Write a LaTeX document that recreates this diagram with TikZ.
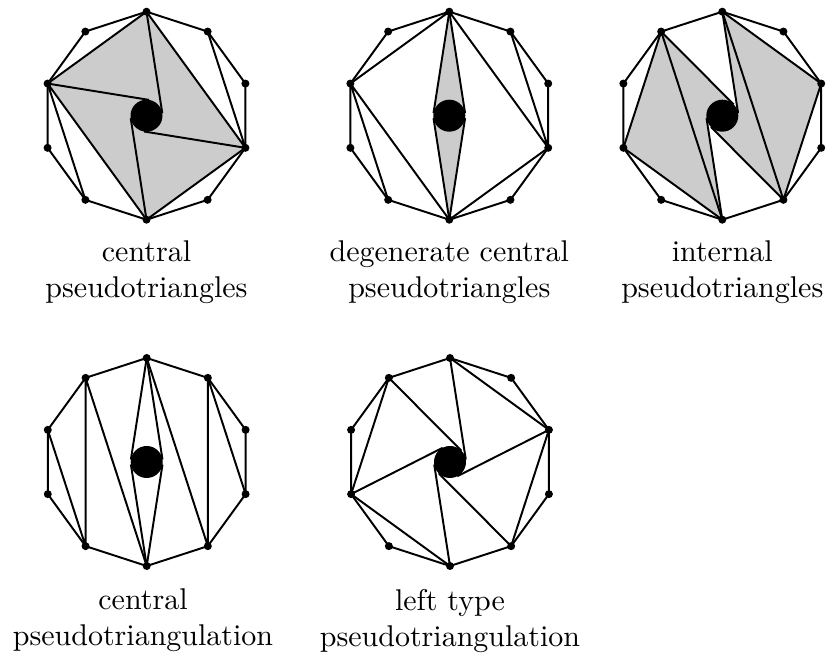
\documentclass[tikz,border=0pt]{standalone}
\usepackage{tikz}
\usetikzlibrary{calc}

\tikzset{
  pseudo/.style={fill=black!20},
  etiquette/.style={align=center, anchor=north, inner sep=0pt},
}
% Décagone régulier : sommets v0..v9, centre c, points de tangence r/l
\newcommand{\Rdec}{104}
\newcommand{\rdisque}{16}
\newcommand{\decagone}{%
  \coordinate (c) at (0,0);
  \foreach \i in {0,...,9} {
    \coordinate (v\i) at ({90-36*\i}:\Rdec);
    \coordinate (r\i) at ({9-36*\i}:\rdisque);
    \coordinate (l\i) at ({171-36*\i}:\rdisque);
  }
}
\newcommand{\contour}{%
  \draw (v0) \foreach \i in {1,...,9} {-- (v\i)} -- cycle;
  \foreach \i in {0,...,9} \fill (v\i) circle (4);
  \fill (c) circle (\rdisque);
}

\begin{document}
\begin{tikzpicture}[x=0.011715cm, y=0.011715cm, line width=0.65pt]
  \useasboundingbox (0,0) rectangle (828,658);

  % Pseudotriangles centraux
  \begin{scope}[shift={(146.5,542.3)}, name prefix=a-]
    \decagone
    \fill[pseudo] (v0) -- (v3) -- (v5) -- (v8) -- cycle;
    \draw (v0) -- (v8) (v0) -- (v3) (v1) -- (v3) (v3) -- (v5) (v5) -- (v8) (v8) -- (v6);
    \foreach \i in {0,3,5,8}
      \draw (v\i) -- (r\i);
    \contour
  \end{scope}

  % Pseudotriangles centraux dégénérés
  \begin{scope}[shift={(449.3,542.3)}, name prefix=b-]
    \decagone
    \fill[pseudo] (v0) -- (r0) -- (l5) -- (v5) -- (r5) -- (l0) -- cycle;
    \draw (v0) -- (v8) (v8) -- (v6) (v8) -- (v5) (v0) -- (v3) (v1) -- (v3) (v3) -- (v5);
    \foreach \i in {0,5} {
      \draw (v\i) -- (r\i);
      \draw (v\i) -- (l\i);
    }
    \contour
  \end{scope}

  % Pseudotriangles internes
  \begin{scope}[shift={(722.3,542.3)}, name prefix=c-]
    \decagone
    \fill[pseudo] (v9) -- (v7) -- (v5) -- (r5) -- (c) -- (r9) -- cycle;
    \fill[pseudo] (v0) -- (v2) -- (v4) -- (r4) -- (c) -- (r0) -- cycle;
    \draw (v9) -- (v7) (v9) -- (v5) (v7) -- (v5) (v0) -- (v4) (v0) -- (v2) (v2) -- (v4);
    \foreach \i in {0,4,5,9}
      \draw (v\i) -- (r\i);
    \contour
  \end{scope}

  % Pseudotriangulation centrale
  \begin{scope}[shift={(146.7,196)}, name prefix=d-]
    \decagone
    \draw (v9) -- (v6) (v9) -- (v5) (v8) -- (v6) (v1) -- (v4) (v1) -- (v3) (v0) -- (v4);
    \foreach \i in {0,5} {
      \draw (v\i) -- (r\i);
      \draw (v\i) -- (l\i);
    }
    \contour
  \end{scope}

  % Pseudotriangulation de type gauche
  \begin{scope}[shift={(450,196)}, name prefix=e-]
    \decagone
    \draw (v0) -- (v2) (v2) -- (v4) (v5) -- (v7) (v7) -- (v9);
    \foreach \i in {0,2,4,5,7,9}
      \draw (v\i) -- (r\i);
    \contour
  \end{scope}

  % Légendes
  \node[etiquette] (etiq-a) at (146.5,418) {central\\pseudotriangles};
  \node[etiquette] (etiq-b) at (449.3,418) {degenerate central\\pseudotriangles};
  \node[etiquette] (etiq-c) at (722.3,418) {internal\\pseudotriangles};
  \node[etiquette] (etiq-d) at (143,70) {central\\pseudotriangulation};
  \node[etiquette] (etiq-e) at (450,70) {left type\\pseudotriangulation};
\end{tikzpicture}
\end{document}
